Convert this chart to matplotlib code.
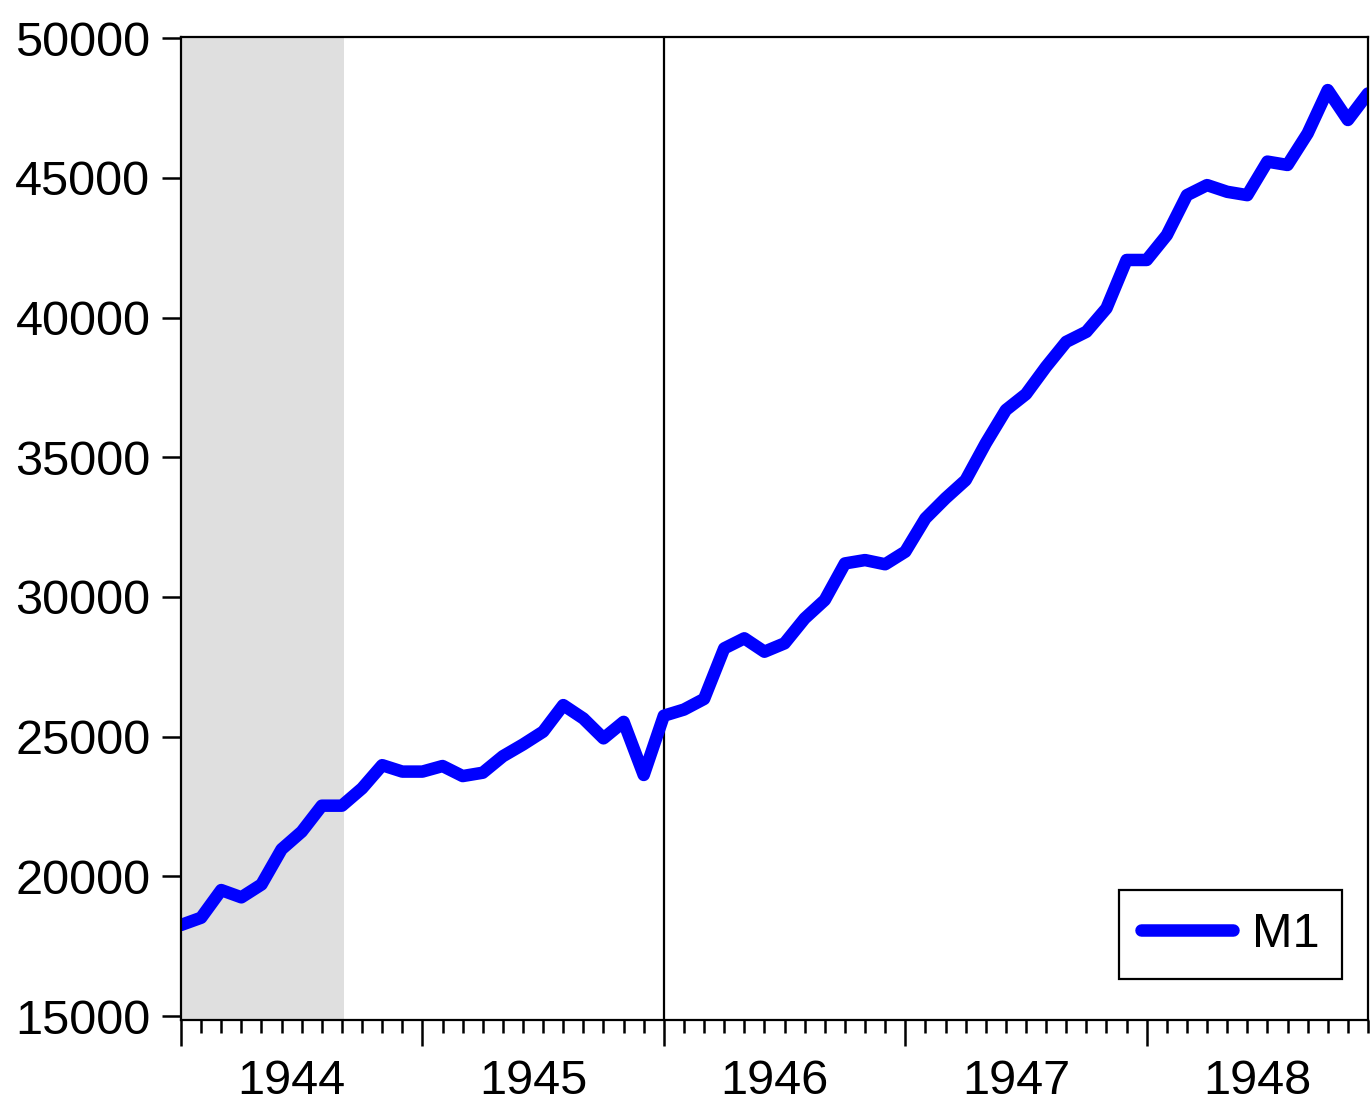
import matplotlib
matplotlib.use("Agg")
import matplotlib.pyplot as plt
import numpy as np

plt.rcParams['font.family'] = ['Liberation Sans', 'DejaVu Sans']

# Monthly data, Jan 1944 .. Dec 1948
years = [1944, 1945, 1946, 1947, 1948]
m1 = [
    18260, 18520, 19510, 19250, 19710, 20970, 21600, 22530, 22530, 23150, 23980, 23750,   # 1944
    23750, 23950, 23590, 23710, 24300, 24720, 25180, 26130, 25650, 24940, 25530, 23630,   # 1945
    25750, 25970, 26350, 28160, 28520, 28040, 28340, 29230, 29890, 31200, 31320, 31170,   # 1946
    31620, 32810, 33530, 34180, 35500, 36690, 37260, 38240, 39130, 39490, 40330, 42060,   # 1947
    42060, 42950, 44380, 44740, 44500, 44380, 45580, 45460, 46590, 48140, 47070, 48020,   # 1948
]
shade_start, shade_end = 0, 8      # shaded period (month index)
vline_month = 24                   # Jan 1946
yticks = [15000, 20000, 25000, 30000, 35000, 40000, 45000, 50000]

months = np.arange(len(m1))

fig = plt.figure(figsize=(13.71, 11.05), dpi=100)
ax = fig.add_axes([181/1371, 1 - 1020/1105, (1368-181)/1371, (1020-37)/1105])

ax.axvspan(shade_start, shade_end + 0.08, color='#dfdfdf', lw=0, zorder=0)
ax.axvline(vline_month, color='black', lw=1.6, zorder=1)
ax.plot(months, m1, color='#0000ff', lw=9, solid_joinstyle='round',
        solid_capstyle='round', label='M1', zorder=2)

ax.set_xlim(0, len(m1) - 1)
ax.set_ylim(14860, 50040)
ax.set_yticks(yticks)
ax.set_yticklabels([str(v) for v in yticks])

ax.set_xticks(np.arange(0, len(m1), 12))
ax.set_xticklabels([])
ax.set_xticks(months, minor=True)

for s in ax.spines.values():
    s.set_linewidth(1.6)

ax.tick_params(axis='y', which='major', direction='out', length=14, width=1.8,
               labelsize=35, pad=8)
ax.tick_params(axis='x', which='major', direction='out', length=19, width=1.8)
ax.tick_params(axis='x', which='minor', direction='out', length=9.5, width=1.8)

sec = ax.secondary_xaxis('bottom')
sec.set_xticks([12 * k + 5.5 for k in range(len(years))])
sec.set_xticklabels([str(y) for y in years])
sec.tick_params(axis='x', length=0, labelsize=35, pad=28)
sec.spines['bottom'].set_visible(False)

leg = ax.legend(loc='lower right', bbox_to_anchor=(0.978, 0.0417), fontsize=35,
                frameon=True, fancybox=False, edgecolor='black', framealpha=1,
                borderaxespad=0, borderpad=0.45, handlelength=1.9, handletextpad=0.4)
leg.get_frame().set_linewidth(1.6)

fig.savefig('out.png', dpi=100)
